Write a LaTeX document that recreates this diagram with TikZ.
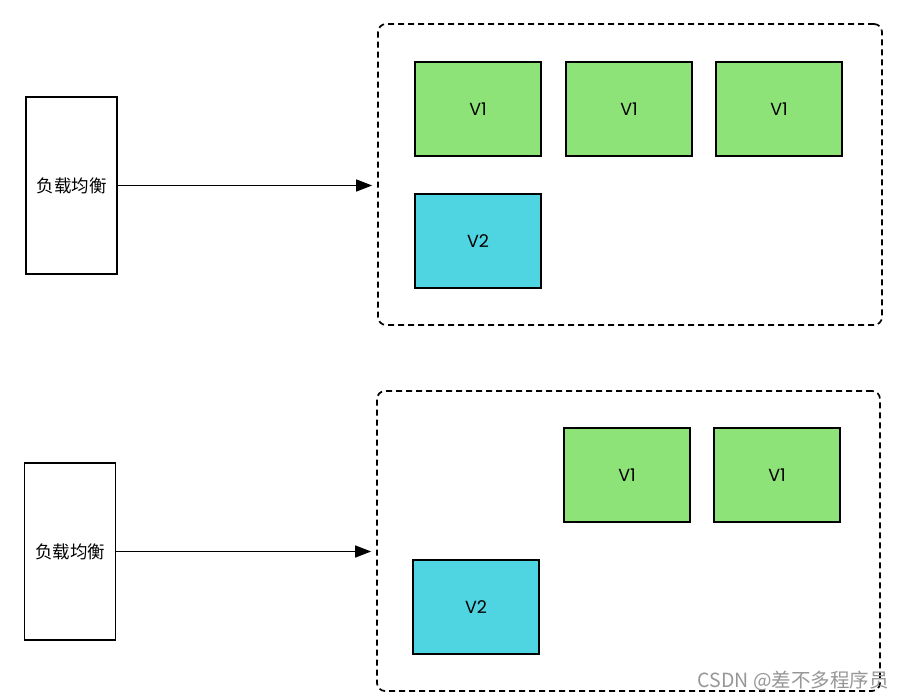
\documentclass[tikz,border=0pt]{standalone}
\usepackage{fontspec}
\setmainfont{Poppins}
\newfontfamily\cjk{Noto Sans CJK SC}
\usetikzlibrary{arrows.meta}

\definecolor{vgreen}{RGB}{141,227,120}
\definecolor{vcyan}{RGB}{79,213,226}
\definecolor{markgray}{RGB}{150,150,150}

\begin{document}
\begin{tikzpicture}[x=1pt,y=-1pt,
  lbbox/.style={draw,line width=1.5pt,minimum width=91pt,minimum height=177pt,
    inner sep=0pt,font=\cjk\fontsize{17.5}{17.5}\selectfont},
  pod/.style={draw,line width=1.6pt,minimum width=126pt,minimum height=94pt,
    inner sep=0pt,font=\fontsize{17.5}{17.5}\selectfont},
  pool/.style={draw,line width=1.7pt,dash pattern=on 6pt off 4pt,
    rounded corners=8pt,inner sep=0pt},
  conn/.style={line width=1.5pt,-{Triangle[length=16pt,width=12pt]},shorten >=5pt}]

  \useasboundingbox (0,0) rectangle (904,700);

  % top group
  \node[lbbox] (lb1) at (71.5,185.5) {负载均衡};
  \node[pool,minimum width=504pt,minimum height=301pt] (pool1) at (630,174.5) {};

  \foreach \x/\n in {478/a,629/b,779/c}
    \node[pod,fill=vgreen] (v1\n) at (\x,109) {V1};
  \node[pod,fill=vcyan] (v2a) at (478,241) {V2};

  \draw[conn] (lb1.east) -- (lb1.east -| pool1.west);

  % bottom group
  \node[lbbox] (lb2) at (70,551.5) {负载均衡};
  \node[pool,minimum width=503pt,minimum height=300pt] (pool2) at (628.5,541) {};

  \foreach \x/\n in {627/d,777/e}
    \node[pod,fill=vgreen] (v1\n) at (\x,475) {V1};
  \node[pod,fill=vcyan] (v2b) at (476,607) {V2};

  \draw[conn] (lb2.east) -- (lb2.east -| pool2.west);

  \node[anchor=east,text=markgray,font=\cjk\fontsize{19.5}{19.5}\selectfont,inner sep=0pt]
    (mark) at (889,681) {CSDN @差不多程序员};
\end{tikzpicture}
\end{document}
